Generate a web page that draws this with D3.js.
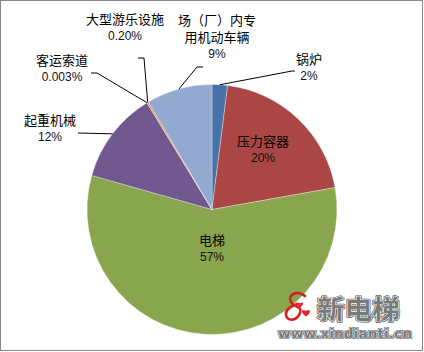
<!DOCTYPE html>
<html><head><meta charset="utf-8">
<script src="https://cdn.jsdelivr.net/npm/d3@7/dist/d3.min.js"></script>
<style>html,body{margin:0;padding:0;background:#fff;}svg{display:block;}</style>
</head><body>
<svg id="chart" width="424" height="352"></svg>
<script>
// ---- data ----
const categories = ["锅炉", "压力容器", "电梯", "起重机械", "客运索道", "大型游乐设施", "场（厂）内专用机动车辆"];
const values = [2.0, 20.2, 57.2, 11.9, 0.003, 0.2, 8.5];
const pctLabels = ["2%", "20%", "57%", "12%", "0.003%", "0.20%", "9%"];
const nameLines = [["锅炉"], ["压力容器"], ["电梯"], ["起重机械"], ["客运索道"], ["大型游乐设施"], ["场（厂）内专", "用机动车辆"]];
const colors = ["#4572A7", "#AA4643", "#89A54E", "#71588F", "#4198AF", "#DB843D", "#93A9CF"];

// ---- layout ----
const W = 424, H = 352;
const cx = 212, cy = 209.5, R = 125;
// label block centres (relative to pie centre) and leader elbows
const labelLayout = [
  {x: 97, y: -142, elbow: [[80, -138.5], [83, -138.5]]},
  {x: 51, y: -60},
  {x: 0, y: 39},
  {x: -162, y: -81, elbow: [[-134, -76.5]]},
  {x: -150, y: -141, elbow: [[-115, -136.5], [-121, -136.5]]},
  {x: -87, y: -182, elbow: [[-68, -151.5], [-74, -151.5]]},
  {x: 5, y: -173, elbow: [[-15, -142.5], [-9, -142.5]]}
];

const svg = d3.select("#chart");
svg.append("rect").attr("x", 0.5).attr("y", 0.5).attr("width", 422).attr("height", 350)
  .attr("fill", "#fff").attr("stroke", "#868686");

const data = categories.map((c, i) => ({cat: c, value: values[i], i}));
const pie = d3.pie().sort(null).value(d => d.value).startAngle(0).endAngle(2 * Math.PI);
const arcs = pie(data);
const arc = d3.arc().innerRadius(0).outerRadius(R);

const g = svg.append("g").attr("transform", `translate(${cx},${cy})`);
g.selectAll("path.slice").data(arcs).join("path")
  .attr("class", "slice")
  .attr("d", arc)
  .attr("fill", d => colors[d.data.i])
  .attr("stroke", "rgba(255,255,255,0.55)")
  .attr("stroke-width", 0.6);

// leader lines
arcs.forEach(d => {
  const L = labelLayout[d.data.i];
  if (!L.elbow) return;
  const a = (d.startAngle + d.endAngle) / 2;
  const p0 = [R * Math.sin(a), -R * Math.cos(a)];
  const pts = [p0].concat(L.elbow);
  g.append("path").attr("d", d3.line()(pts)).attr("fill", "none")
    .attr("stroke", "#000").attr("stroke-width", 1);
});

// labels
const cjk = "'Noto Sans CJK SC', 'Microsoft YaHei', sans-serif";
arcs.forEach(d => {
  const i = d.data.i, L = labelLayout[i];
  const lines = nameLines[i];
  const lh = 17.5;
  const total = lines.length + 1;
  const y0 = L.y - (total - 1) * lh / 2;
  lines.forEach((t, k) => {
    g.append("text").attr("x", L.x).attr("y", y0 + k * lh)
      .attr("text-anchor", "middle").attr("dominant-baseline", "central")
      .attr("font-family", cjk).attr("font-size", 13).attr("fill", "#000").text(t);
  });
  g.append("text").attr("x", L.x).attr("y", y0 + lines.length * lh)
    .attr("text-anchor", "middle").attr("dominant-baseline", "central")
    .attr("font-family", "'Liberation Sans', Arial, sans-serif").attr("font-size", 12)
    .attr("fill", "#111").text(pctLabels[i]);
});

// watermark
const wm = svg.append("g");
wm.append("path")
  .attr("d", "M305,296 C298,290 287,294 291,302 C294,308 303,306 300,313 C297,321 287,322 286,315 C285,309 292,306 297,304")
  .attr("fill", "none").attr("stroke", "#d42020").attr("stroke-width", 2.6).attr("stroke-linecap", "round");
function heart(x, y, s) {
  return `M${x},${y + s * 0.9} C${x - s * 1.2},${y + s * 0.1} ${x - s * 0.9},${y - s * 0.8} ${x},${y - s * 0.2} C${x + s * 0.9},${y - s * 0.8} ${x + s * 1.2},${y + s * 0.1} ${x},${y + s * 0.9}Z`;
}
wm.append("path").attr("d", heart(300, 304, 4)).attr("fill", "#e03030");
wm.append("path").attr("d", heart(306, 312, 5)).attr("fill", "#e02828");

function outlined(sel, x, y, txt, size, fam, opts) {
  const mk = () => sel.append("text").attr("x", x).attr("y", y)
    .attr("font-family", fam).attr("font-size", size).attr("font-weight", opts.weight)
    .attr("dominant-baseline", "central")
    .attr("textLength", opts.len).attr("lengthAdjust", "spacingAndGlyphs").text(txt);
  mk().attr("fill", "#555").attr("stroke", "#555").attr("stroke-width", opts.outer).attr("stroke-linejoin", "round");
  mk().attr("fill", "#fff").attr("stroke", "#fff").attr("stroke-width", opts.inner).attr("stroke-linejoin", "round");
  mk().attr("fill", "#7a7a7a");
}
outlined(wm, 317, 307, "新电梯", 26, cjk, {len: 83, outer: 2.6, inner: 1.2, weight: "bold"});
outlined(wm, 278, 334, "www.xindianti.cn", 12, "'DejaVu Sans', Verdana, sans-serif", {len: 134, outer: 2, inner: 0.9, weight: "bold"});
</script>
</body></html>
